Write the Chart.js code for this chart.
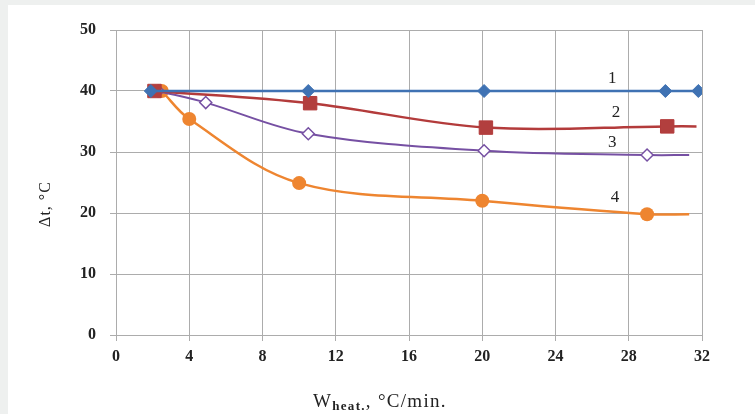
<!DOCTYPE html>
<html>
<head>
<meta charset="utf-8">
<script src="https://cdn.jsdelivr.net/npm/chart.js@4.4.1/dist/chart.umd.min.js"></script>
<style>
  html, body { margin: 0; padding: 0; background: #eef0ef; }
  #panel { position: absolute; left: 8px; top: 5px; width: 747px; height: 409px; background: #fff; }
</style>
</head>
<body>
<div id="panel"><canvas id="chart" width="747" height="409"></canvas></div>
<script>
// --- data ---
const curve1X = [1.9, 10.5, 20.1, 30.0, 31.8];
const curve1Y = [40, 40, 40, 40, 40];
const curve2X = [2.1, 10.6, 20.2, 30.1, 31.7];
const curve2Y = [40, 38.0, 34.0, 34.2, 34.2];
const curve3X = [2.3, 4.9, 10.5, 20.1, 29.0, 31.3];
const curve3Y = [40, 38.1, 33.0, 30.2, 29.5, 29.5];
const curve4X = [2.5, 4.0, 10.0, 20.0, 29.0, 31.3];
const curve4Y = [40, 35.4, 24.9, 22.0, 19.8, 19.8];

const curveNames = ["1", "2", "3", "4"];
const nameX = [27.1, 27.3, 27.1, 27.25];
const nameY = [42.1, 36.4, 31.6, 22.5];

const xTicks = [0, 4, 8, 12, 16, 20, 24, 28, 32];
const yTicks = [0, 10, 20, 30, 40, 50];

const toPoints = (xs, ys) => xs.map((x, i) => ({ x: x, y: ys[i] }));

// the last point of curves 2-4 only carries the line, no marker
const lastHidden = (r) => (ctx) => {
  const n = ctx.dataset.data.length;
  return ctx.dataIndex === n - 1 ? 0 : r;
};

const serif = "'Liberation Serif', 'DejaVu Serif', serif";
const gridGray = "#acacac";

// curve numbers and axis titles
const annotate = {
  id: "annotate",
  afterDatasetsDraw(chart) {
    const { ctx, scales: { x, y } } = chart;
    ctx.save();
    ctx.fillStyle = "#222";
    ctx.textAlign = "center";
    ctx.textBaseline = "middle";
    ctx.font = "17px " + serif;
    curveNames.forEach((t, i) => {
      ctx.fillText(t, x.getPixelForValue(nameX[i]), y.getPixelForValue(nameY[i]));
    });

    // y title, rotated
    ctx.save();
    ctx.translate(38, 199);
    ctx.rotate(-Math.PI / 2);
    ctx.font = "16px " + serif;
    ctx.letterSpacing = "1px";
    ctx.fillText("\u0394t, \u00B0C", 0, 0);
    ctx.restore();

    // x title with subscript
    const base = 402;
    let px = 305;
    ctx.textAlign = "left";
    ctx.textBaseline = "alphabetic";
    ctx.letterSpacing = "1.3px";
    ctx.font = "19px " + serif;
    ctx.fillText("W", px, base);
    px += ctx.measureText("W").width;
    ctx.font = "bold 13px " + serif;
    ctx.fillText("heat.", px, base + 3);
    px += ctx.measureText("heat.").width;
    ctx.font = "19px " + serif;
    ctx.fillText(", \u00B0C/min.", px, base);
    ctx.restore();
  }
};

new Chart(document.getElementById("chart"), {
  type: "scatter",
  data: {
    datasets: [
      {
        label: "1",
        data: toPoints(curve1X, curve1Y),
        showLine: true,
        borderColor: "#3f72b3",
        backgroundColor: "#3f72b3",
        borderWidth: 2.5,
        pointStyle: "rectRot",
        pointRadius: 6.5,
        pointBorderWidth: 1,
        tension: 0,
      },
      {
        label: "2",
        data: toPoints(curve2X, curve2Y),
        showLine: true,
        borderColor: "#b33b3b",
        backgroundColor: "#b23f3e",
        borderWidth: 2.5,
        pointStyle: "rect",
        pointRadius: lastHidden(9.5),
        pointBorderWidth: 1,
        tension: 0.35,
      },
      {
        label: "3",
        data: toPoints(curve3X, curve3Y),
        showLine: true,
        borderColor: "#7650a3",
        backgroundColor: "#ffffff",
        pointBorderColor: "#7650a3",
        borderWidth: 2,
        pointStyle: "rectRot",
        pointRadius: lastHidden(6),
        pointBorderWidth: 1.5,
        tension: 0.35,
      },
      {
        label: "4",
        data: toPoints(curve4X, curve4Y),
        showLine: true,
        borderColor: "#ee8530",
        backgroundColor: "#ee8530",
        borderWidth: 2.5,
        pointStyle: "circle",
        pointRadius: lastHidden(7),
        pointBorderWidth: 0,
        tension: 0.35,
      },
    ],
  },
  options: {
    responsive: false,
    animation: false,
    layout: { padding: { top: 25, right: 53, left: 0, bottom: 0 } },
    plugins: {
      legend: { display: false },
      tooltip: { enabled: false },
    },
    scales: {
      x: {
        type: "linear",
        min: 0,
        max: 32,
        afterBuildTicks: (s) => { s.ticks = xTicks.map(v => ({ value: v })); },
        afterFit: (s) => { s.height = 79; },
        ticks: {
          color: "#222",
          padding: 6,
          font: { family: serif, size: 16, weight: "bold" },
        },
        grid: { color: gridGray, lineWidth: 1, tickLength: 6 },
        border: { color: gridGray },
      },
      y: {
        type: "linear",
        min: 0,
        max: 50,
        afterBuildTicks: (s) => { s.ticks = yTicks.map(v => ({ value: v })); },
        afterFit: (s) => { s.width = 108; },
        ticks: {
          color: "#222",
          padding: 14,
          font: { family: serif, size: 16, weight: "bold" },
        },
        grid: { color: gridGray, lineWidth: 1, tickLength: 6 },
        border: { color: gridGray },
      },
    },
  },
  plugins: [annotate],
});
</script>
</body>
</html>
